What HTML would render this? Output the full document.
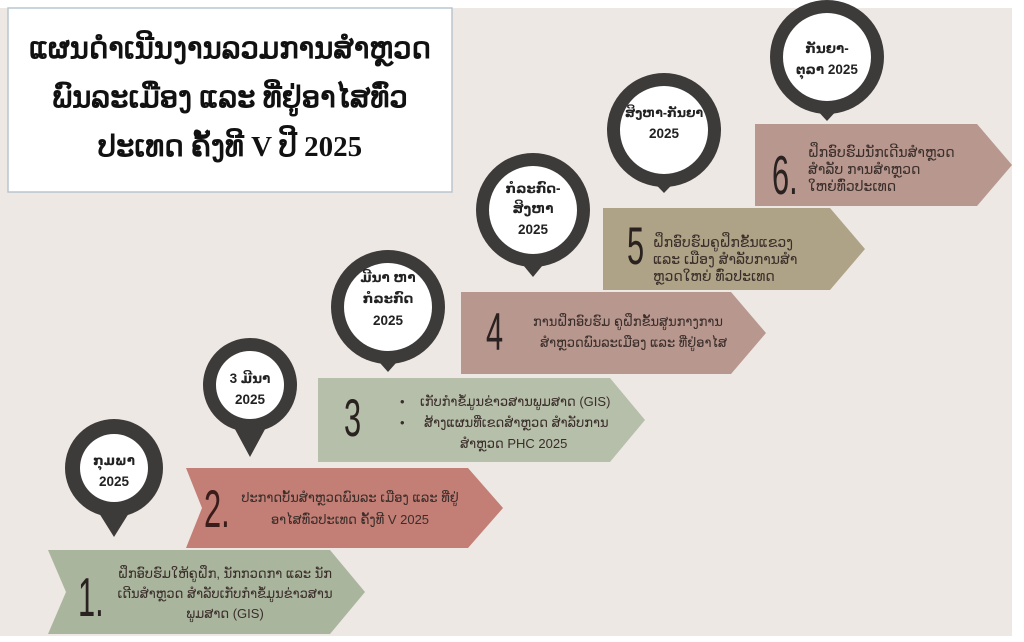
<!DOCTYPE html>
<html><head><meta charset="utf-8"><style>
html,body{margin:0;padding:0;background:#fff;}
svg{display:block;}
text{font-family:"Liberation Sans","DejaVu Sans",sans-serif;}
.t{font-size:13px;fill:#3a2e2a;}
.n{font-size:44px;fill:#2a2220;font-weight:normal;}
.p{font-size:13.5px;font-weight:bold;fill:#222;text-anchor:middle;}
</style></head><body>
<svg width="1024" height="642" viewBox="0 0 1024 642" xmlns="http://www.w3.org/2000/svg">
<rect x="0" y="8" width="1012" height="628" fill="#ede8e3"/>
<rect x="8" y="8" width="444" height="184" fill="#fff" stroke="#b9c6cf" stroke-width="1.5"/>
<text x="230" y="58" text-anchor="middle" style="font-family:'Liberation Serif','DejaVu Serif',serif;font-size:29px;font-weight:bold" fill="#111">ແຜນດຳເນີນງານລວມການສຳຫຼວດ</text>
<text x="230" y="107" text-anchor="middle" style="font-family:'Liberation Serif','DejaVu Serif',serif;font-size:29px;font-weight:bold" fill="#111">ພົນລະເມືອງ ແລະ ທີ່ຢູ່ອາໄສທົ່ວ</text>
<text x="230" y="156" text-anchor="middle" style="font-family:'Liberation Serif','DejaVu Serif',serif;font-size:29px;font-weight:bold" fill="#111">ປະເທດ ຄັ້ງທີ V ປີ 2025</text>

<polygon points="48,550 330,550 365,592 330,634 48,634 66,592" fill="#aab59e"/>
<polygon points="186,468 468,468 503,508 468,548 186,548 202,508" fill="#c37e76"/>
<polygon points="318,378 610,378 645,420 610,462 318,462" fill="#b6bfa9"/>
<polygon points="461,292 731,292 766,333 731,374 461,374" fill="#b8978f"/>
<polygon points="603,208 830,208 865,249 830,290 603,290" style="fill:#aea386"/>
<polygon points="755,124 977,124 1012,165 977,206 755,206" fill="#b8978f"/>

<text class="n" transform="translate(78,616) scale(0.7,1.25)" style="font-size:44px">1.</text>
<text class="t" x="225" y="578" text-anchor="middle">ຝຶກອົບຮົມໃຫ້ຄູຝຶກ, ນັກກວດກາ ແລະ ນັກ</text>
<text class="t" x="225" y="598" text-anchor="middle">ເດີນສຳຫຼວດ ສຳລັບເກັບກຳຂໍ້ມູນຂ່າວສານ</text>
<text class="t" x="225" y="618" text-anchor="middle">ພູມສາດ (GIS)</text>

<text class="n" transform="translate(204,527) scale(0.7,1.2)" style="font-size:44px;fill:#3a1d1a">2.</text>
<text class="t" x="350" y="502" text-anchor="middle">ປະກາດບັ້ນສຳຫຼວດພົນລະ ເມືອງ ແລະ ທີ່ຢູ່</text>
<text class="t" x="350" y="524" text-anchor="middle">ອາໄສທົ່ວປະເທດ ຄັ້ງທີ V 2025</text>

<text class="n" transform="translate(344,436) scale(0.7,1.2)">3</text>
<text class="t" x="400" y="406">•</text>
<text class="t" x="420" y="406">ເກັບກຳຂໍ້ມູນຂ່າວສານພູມສາດ (GIS)</text>
<text class="t" x="400" y="427">•</text>
<text class="t" x="424" y="427">ສ້າງແຜນທີ່ເຂດສຳຫຼວດ ສຳລັບການ</text>
<text class="t" x="460" y="448">ສຳຫຼວດ PHC 2025</text>

<text class="n" transform="translate(486,350) scale(0.7,1.2)">4</text>
<text class="t" x="533" y="326">ການຝຶກອົບຮົມ ຄູຝຶກຂັ້ນສູນກາງການ</text>
<text class="t" x="540" y="347">ສຳຫຼວດພົນລະເມືອງ ແລະ ທີ່ຢູ່ອາໄສ</text>

<text class="n" transform="translate(627,264) scale(0.7,1.2)">5</text>
<text class="t" x="653" y="247" style="font-size:14px">ຝຶກອົບຮົມຄູຝຶກຂັ້ນແຂວງ</text>
<text class="t" x="653" y="264" style="font-size:14px">ແລະ ເມືອງ ສຳລັບການສຳ</text>
<text class="t" x="653" y="281" style="font-size:14px">ຫຼວດໃຫຍ່   ທົ່ວປະເທດ</text>

<text class="n" transform="translate(772,194) scale(0.7,1.25)" style="font-size:44px">6.</text>
<text class="t" x="808" y="157" style="font-size:14px">ຝຶກອົບຮົມນັກເດີນສຳຫຼວດ</text>
<text class="t" x="808" y="174" style="font-size:14px">ສຳລັບ ການສຳຫຼວດ</text>
<text class="t" x="808" y="191" style="font-size:14px">ໃຫຍ່ທົ່ວປະເທດ</text>

<g fill="#3d3b3a">
<circle cx="114" cy="468" r="49"/><polygon points="94,505 134,505 114,537"/>
<circle cx="250" cy="385" r="47"/><polygon points="230,420 270,420 250,457"/>
<circle cx="388" cy="307" r="57"/><polygon points="364,345 412,345 388,372"/>
<circle cx="533" cy="210" r="57"/><polygon points="509,248 557,248 533,277"/>
<circle cx="664" cy="130" r="57"/><polygon points="640,168 688,168 664,193"/>
<circle cx="827" cy="57" r="57"/><polygon points="803,95 851,95 827,121"/>
</g>
<g fill="#fff">
<circle cx="114" cy="468" r="34"/>
<circle cx="250" cy="385" r="34"/>
<circle cx="388" cy="307" r="44"/>
<circle cx="533" cy="210" r="44"/>
<circle cx="664" cy="130" r="44"/>
<circle cx="827" cy="57" r="44"/>
</g>
<text class="p" x="114" y="465">ກຸມພາ</text><text class="p" x="114" y="486">2025</text>
<text class="p" x="250" y="383">3 ມີນາ</text><text class="p" x="250" y="404">2025</text>
<text class="p" x="388" y="282">ມີນາ ຫາ</text><text class="p" x="388" y="303">ກໍລະກົດ</text><text class="p" x="388" y="325">2025</text>
<text class="p" x="533" y="193">ກໍລະກົດ-</text><text class="p" x="533" y="213">ສິງຫາ</text><text class="p" x="533" y="234">2025</text>
<text class="p" x="664" y="117" style="font-size:12.5px">ສິງຫາ-ກັນຍາ</text><text class="p" x="664" y="138">2025</text>
<text class="p" x="827" y="53">ກັນຍາ-</text><text class="p" x="827" y="74">ຕຸລາ 2025</text>
</svg>
</body></html>
